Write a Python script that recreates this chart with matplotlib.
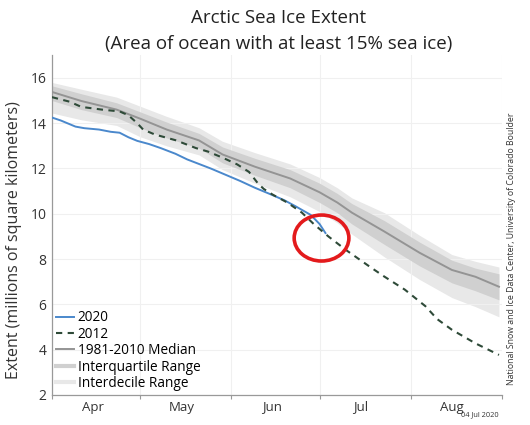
import numpy as np
import matplotlib
matplotlib.use("Agg")
import matplotlib.pyplot as plt
import matplotlib.dates as mdates
from matplotlib.patches import Ellipse

plt.rcParams['font.family'] = ['Open Sans', 'DejaVu Sans']

# days counted from 1 April
start = np.datetime64('2020-04-01')

# 1981-2010 median and ranges
clim_days = [0, 10, 22, 30, 39, 50, 58, 69, 81, 91, 97, 102, 113, 125, 136, 144, 152]
median = [15.38, 14.98, 14.6, 14.2, 13.72, 13.24, 12.62, 12.08, 11.56, 10.95, 10.5, 10.05, 9.22, 8.28, 7.52, 7.22, 6.78]
iqr_lo = [15.0, 14.6, 14.25, 13.8, 13.35, 12.9, 12.25, 11.7, 11.15, 10.5, 10.05, 9.55, 8.65, 7.7, 6.95, 6.6, 6.2]
iqr_hi = [15.65, 15.3, 14.9, 14.5, 14.05, 13.55, 12.95, 12.45, 11.95, 11.35, 10.9, 10.45, 9.7, 8.75, 7.95, 7.6, 7.35]
idr_lo = [14.45, 14.15, 13.9, 13.4, 13.0, 12.6, 11.95, 11.35, 10.75, 10.1, 9.6, 9.1, 8.1, 7.1, 6.3, 5.9, 5.45]
idr_hi = [15.8, 15.5, 15.15, 14.75, 14.3, 13.8, 13.2, 12.7, 12.2, 11.6, 11.15, 10.7, 10.05, 9.05, 8.2, 7.9, 7.65]

# 2020
days_2020 = [0, 3, 8, 11, 16, 20, 23, 26, 29, 33, 37, 42, 46, 50, 54, 58, 64, 69, 74, 79, 83, 88, 91, 93]
ext_2020 = [14.25, 14.12, 13.85, 13.78, 13.72, 13.62, 13.58, 13.38, 13.22, 13.08, 12.9, 12.65, 12.4, 12.2,
            12.0, 11.78, 11.45, 11.15, 10.88, 10.6, 10.32, 9.95, 9.55, 9.15]

# 2012
days_2012 = [0, 6, 10, 17, 23, 26, 29, 31, 35, 42, 49, 53, 58, 63, 67, 70, 72, 75, 80, 85, 89, 94,
             100, 108, 113, 120, 127, 131, 136, 144, 152]
ext_2012 = [15.15, 14.95, 14.72, 14.6, 14.52, 14.35, 14.0, 13.72, 13.5, 13.25, 12.9, 12.75, 12.48, 12.18,
            11.85, 11.35, 11.1, 10.85, 10.5, 10.05, 9.55, 9.0, 8.4, 7.67, 7.23, 6.65, 5.92, 5.35, 4.88, 4.28, 3.77]


def to_dates(d):
    return start + np.array(d).astype('timedelta64[D]')


fig = plt.figure(figsize=(5.3, 4.25), dpi=100)
ax = fig.add_axes([0.098, 0.0706, 0.849, 0.7994])

cd = to_dates(clim_days)
ax.fill_between(cd, idr_lo, idr_hi, color='#e8e8e8', lw=0, zorder=1)
ax.fill_between(cd, iqr_lo, iqr_hi, color='#d0d0d0', lw=0, zorder=2)
ax.plot(cd, median, color='#949494', lw=1.4, zorder=3)
ax.plot(to_dates(days_2020), ext_2020, color='#4a88cc', lw=1.4, zorder=4)
ax.plot(to_dates(days_2012), ext_2012, color='#2e4a38', lw=1.5, ls=(0, (3, 2.6)), zorder=5)

# red circle marking the latest value
ax.add_patch(Ellipse((mdates.date2num(np.datetime64('2020-07-01T16')), 8.93), 18.6, 2.03,
                     fill=False, ec='#e31a1c', lw=2.6, zorder=6))

ax.set_ylim(2, 17)
ax.set_xlim(start, np.datetime64('2020-09-01'))
ax.set_yticks(range(2, 17, 2))

ax.xaxis.set_major_locator(mdates.MonthLocator())
ax.xaxis.set_major_formatter(plt.NullFormatter())
ax.xaxis.set_minor_locator(mdates.MonthLocator(bymonthday=15))
ax.xaxis.set_minor_formatter(mdates.DateFormatter('%b'))
ax.tick_params(axis='x', which='major', length=3, color='#999999')
ax.tick_params(axis='x', which='minor', length=0, labelsize=9.5, labelcolor='#333333', pad=4)
ax.tick_params(axis='y', length=0, labelsize=10, labelcolor='#333333', pad=4)

ax.grid(True, which='major', color='#f0f0f0', lw=0.8, zorder=0)
for s in ['top', 'right']:
    ax.spines[s].set_visible(False)
for s in ['left', 'bottom']:
    ax.spines[s].set_color('#999999')
    ax.spines[s].set_linewidth(0.9)

# legend
h20, = ax.plot([], [], color='#4a88cc', lw=1.4)
h12, = ax.plot([], [], color='#2e4a38', lw=1.5, ls=(0, (3, 2.6)))
hmed, = ax.plot([], [], color='#949494', lw=1.4)
hiqr, = ax.plot([], [], color='#d0d0d0', lw=3)
hidr, = ax.plot([], [], color='#e8e8e8', lw=3)
ax.legend([h20, h12, hmed, hiqr, hidr],
          ['2020', '2012', '1981-2010 Median', 'Interquartile Range', 'Interdecile Range'],
          loc='lower left', frameon=False, fontsize=9.8, handlelength=1.35, handletextpad=0.25,
          labelspacing=0.1, borderaxespad=0.1, borderpad=0.2, bbox_to_anchor=(0.0, 0.0))

fig.text(0.525, 0.958, 'Arctic Sea Ice Extent', ha='center', va='center', fontsize=13.5, color='#222222')
fig.text(0.525, 0.897, '(Area of ocean with at least 15% sea ice)', ha='center', va='center',
         fontsize=13.5, color='#222222')
fig.text(0.027, 0.435, 'Extent (millions of square kilometers)', rotation=90, ha='center', va='center',
         fontsize=11.5, color='#333333')
fig.text(0.966, 0.415, 'National Snow and Ice Data Center, University of Colorado Boulder', rotation=90,
         ha='center', va='center', fontsize=6.3, color='#333333')
fig.text(0.906, 0.024, '04 Jul 2020', ha='center', va='center', fontsize=5.3, color='#333333')

fig.savefig('out.png', dpi=100)
